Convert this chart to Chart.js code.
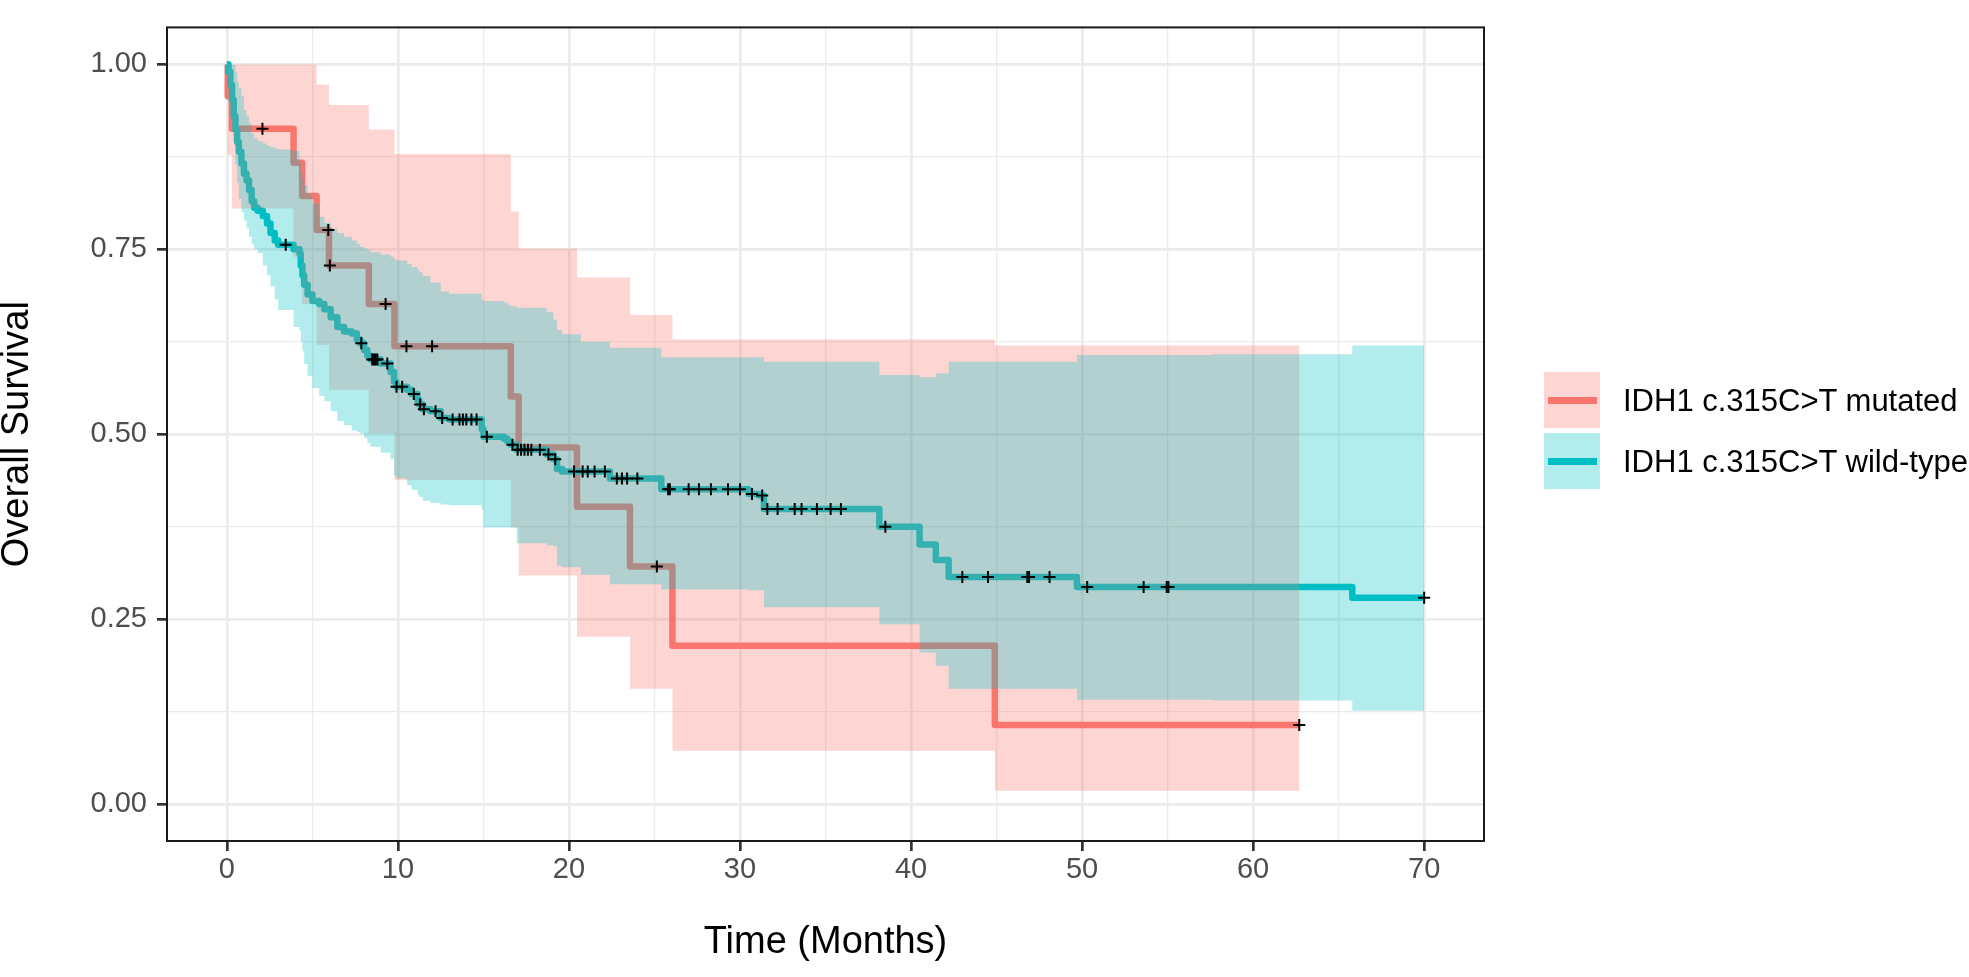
<!DOCTYPE html>
<html>
<head>
<meta charset="utf-8">
<script src="https://cdn.jsdelivr.net/npm/chart.js"></script>
<style>
  html, body { margin: 0; padding: 0; background: #ffffff; }
  #wrap { position: relative; width: 1969px; height: 977px; overflow: hidden; }
  #c { position: absolute; left: 0; top: 0; }
  .key { position: absolute; width: 56px; height: 56px; }
  .key .ln { position: absolute; left: 4px; top: 24.5px; width: 49px; height: 7px; }
  .lab { position: absolute; height: 56px; display: flex; align-items: center;
         font-family: 'Liberation Sans', Arial, sans-serif; font-size: 31px; line-height: 31px;
         color: #000; white-space: nowrap; }
</style>
</head>
<body>
<div id="wrap">
  <canvas id="c" width="1969" height="977"></canvas>
  <div id="legend"></div>
</div>
<script>
// ---------------- data ----------------
const seriesNames  = ['IDH1 c.315C>T mutated', 'IDH1 c.315C>T wild-type'];
const seriesColors = ['#F8766D', '#00BFC4'];
const ribbonColors = ['rgba(248,118,109,0.3)', 'rgba(0,191,196,0.3)'];

// IDH1 c.315C>T mutated : step times, survival, CI upper, CI lower
const mutTime  = [0, 0.05, 0.3, 3.9, 4.4, 5.25, 5.97, 8.3, 9.8, 16.6, 17.06, 20.47, 23.57, 26.05, 44.9, 62.7];
const mutSurv  = [1, 0.957, 0.913, 0.867, 0.822, 0.776, 0.728, 0.676, 0.619, 0.551, 0.482, 0.402, 0.321, 0.214, 0.107, 0.107];
const mutUpper = [1, 1, 1, 1, 1, 0.9725, 0.945, 0.912, 0.879, 0.801, 0.751, 0.712, 0.661, 0.628, 0.620, 0.620];
const mutLower = [1, 0.877, 0.805, 0.740, 0.676, 0.621, 0.560, 0.501, 0.438, 0.374, 0.309, 0.226, 0.156, 0.072, 0.018, 0.018];
const mutCensor = [2.08, 5.93, 6.02, 9.28, 10.5, 12.0, 25.14, 62.7];

// IDH1 c.315C>T wild-type
const wtTime = [0, 0.1, 0.2, 0.3, 0.4, 0.5, 0.6, 0.7, 0.85, 1.0, 1.15, 1.3, 1.45, 1.6, 1.8, 2.1, 2.35, 2.55, 2.8, 3.0,
  3.9, 4.25, 4.32, 4.42, 4.52, 4.72, 5.0, 5.4, 5.7, 6.07, 6.46, 6.85, 7.3, 7.6, 7.8, 8.02, 8.21, 8.4, 9.0, 9.57,
  9.77, 9.9, 10.54, 10.8, 11.15, 11.25, 11.45, 11.9, 12.5, 13.0, 14.9, 15.0, 16.2, 16.4, 16.6, 16.95, 18.7, 19.1, 19.3, 19.6,
  20.7, 22.4, 25.4, 30.5, 31.1, 31.4, 38.15, 40.5, 41.45, 42.2, 49.7, 57.6, 65.8, 70];
const wtSurv = [1, 0.990, 0.972, 0.952, 0.930, 0.912, 0.895, 0.882, 0.866, 0.852, 0.843, 0.830, 0.815, 0.806, 0.802, 0.795, 0.785, 0.772, 0.762, 0.756,
  0.750, 0.744, 0.728, 0.715, 0.702, 0.689, 0.680, 0.676, 0.669, 0.658, 0.645, 0.639, 0.636, 0.628, 0.623, 0.614, 0.606, 0.601, 0.5955, 0.584,
  0.571, 0.564, 0.560, 0.5545, 0.546, 0.540, 0.5336, 0.531, 0.522, 0.520, 0.507, 0.4965, 0.494, 0.490, 0.4856, 0.479, 0.4725, 0.466, 0.453, 0.4495,
  0.4495, 0.440, 0.4255, 0.419, 0.417, 0.399, 0.375, 0.351, 0.330, 0.307, 0.2935, 0.2935, 0.279, 0.279];
const wtUpper = [1, 1, 1, 1, 1, 0.99, 0.977, 0.968, 0.957, 0.938, 0.930, 0.920, 0.907, 0.900, 0.896, 0.893, 0.890, 0.888, 0.886, 0.885,
  0.883, 0.870, 0.855, 0.845, 0.837, 0.825, 0.812, 0.794, 0.786, 0.778, 0.772, 0.767, 0.762, 0.757, 0.753, 0.751, 0.749, 0.746, 0.743, 0.740,
  0.737, 0.735, 0.730, 0.726, 0.722, 0.719, 0.714, 0.705, 0.693, 0.690, 0.682, 0.680, 0.678, 0.675, 0.673, 0.671, 0.665, 0.655, 0.641, 0.635,
  0.625, 0.617, 0.604, 0.604, 0.604, 0.598, 0.580, 0.577, 0.582, 0.598, 0.607, 0.608, 0.620, 0.620];
const wtLower = [1, 0.975, 0.950, 0.922, 0.895, 0.865, 0.840, 0.818, 0.800, 0.789, 0.778, 0.767, 0.757, 0.750, 0.745, 0.728, 0.715, 0.700, 0.682, 0.668,
  0.645, 0.640, 0.625, 0.612, 0.595, 0.579, 0.562, 0.552, 0.5445, 0.531, 0.518, 0.512, 0.505, 0.503, 0.501, 0.495, 0.488, 0.483, 0.475, 0.466,
  0.444, 0.440, 0.431, 0.425, 0.418, 0.415, 0.410, 0.407, 0.405, 0.404, 0.398, 0.374, 0.374, 0.374, 0.374, 0.3525, 0.350, 0.348, 0.322, 0.320,
  0.310, 0.297, 0.290, 0.289, 0.289, 0.266, 0.243, 0.205, 0.187, 0.156, 0.141, 0.140, 0.126, 0.126];
const wtCensor = [3.44, 7.86, 8.5, 8.6, 8.7, 8.8, 9.38, 9.92, 10.25, 10.93, 11.3, 11.52, 12.2, 12.59, 13.2, 13.6, 13.8, 14.0, 14.3, 14.6,
  15.2, 16.7, 17.0, 17.2, 17.4, 17.6, 17.8, 18.3, 18.8, 19.2, 20.3, 20.8, 21.1, 21.5, 22.1, 22.8, 23.1, 23.4, 24.0, 25.8,
  25.9, 27.0, 27.6, 28.3, 29.3, 30.0, 30.7, 31.3, 31.6, 32.2, 33.2, 33.6, 34.5, 35.3, 35.9, 38.5, 43.0, 44.5, 46.8, 46.9,
  48.1, 50.3, 53.6, 54.95, 55.05, 70];

// axes
const xTicks = [0, 5, 10, 15, 20, 25, 30, 35, 40, 45, 50, 55, 60, 65, 70];
const xMajor = [0, 10, 20, 30, 40, 50, 60, 70];
const yTicks = [0, 0.125, 0.25, 0.375, 0.5, 0.625, 0.75, 0.875, 1];
const yMajor = [0, 0.25, 0.5, 0.75, 1];
const xRange = [-3.5, 73.5];
const yRange = [-0.05, 1.05];
const xTitle = 'Time (Months)';
const yTitle = 'Overall Survival';

// ---------------- helpers ----------------
const pts = (xs, ys) => xs.map((x, i) => ({ x: x, y: ys[i] }));
function survAt(times, surv, t) {
  let v = surv[0];
  for (let i = 0; i < times.length; i++) { if (times[i] <= t) v = surv[i]; }
  return v;
}
const censorPts = (cens, times, surv) => cens.map(t => ({ x: t, y: survAt(times, surv, t) }));
const isMajor = (arr, v) => arr.some(m => Math.abs(m - v) < 1e-9);

const FONT = "'Liberation Sans', Arial, sans-serif";
Chart.defaults.font.family = FONT;

const lineDs = (label, xs, ys, color, order) => ({
  type: 'line', label: label, data: pts(xs, ys), stepped: true,
  borderColor: color, borderWidth: 6.5, borderCapStyle: 'butt', borderJoinStyle: 'round',
  pointRadius: 0, pointHoverRadius: 0, fill: false, order: order, tension: 0
});
const bandDs = (xs, ys, fillColor, fillTarget, order) => ({
  type: 'line', data: pts(xs, ys), stepped: true,
  borderWidth: 0, borderColor: 'rgba(0,0,0,0)', backgroundColor: fillColor,
  pointRadius: 0, pointHoverRadius: 0, fill: fillTarget, order: order, tension: 0
});

const panelBorder = {
  id: 'panelBorder',
  afterDatasetsDraw(chart) {
    const { ctx, chartArea: a } = chart;
    ctx.save();
    ctx.strokeStyle = '#1a1a1a';
    ctx.lineWidth = 2;
    ctx.strokeRect(a.left, a.top, a.right - a.left, a.bottom - a.top);
    ctx.restore();
  }
};

new Chart(document.getElementById('c'), {
  type: 'line',
  data: {
    datasets: [
      lineDs(seriesNames[0], mutTime, mutSurv, seriesColors[0], 6),
      lineDs(seriesNames[1], wtTime, wtSurv, seriesColors[1], 5),
      bandDs(mutTime, mutUpper, ribbonColors[0], '+1', 4),
      bandDs(mutTime, mutLower, 'rgba(0,0,0,0)', false, 4.5),
      bandDs(wtTime, wtUpper, ribbonColors[1], '+1', 3),
      bandDs(wtTime, wtLower, 'rgba(0,0,0,0)', false, 3.5),
      { type: 'scatter', data: censorPts(mutCensor, mutTime, mutSurv).concat(censorPts(wtCensor, wtTime, wtSurv)),
        pointStyle: 'cross', pointRadius: 6, pointHoverRadius: 6, pointBorderWidth: 2,
        pointBorderColor: '#000', pointBackgroundColor: '#000', borderColor: '#000', showLine: false, order: 1 }
    ]
  },
  options: {
    responsive: false,
    animation: false,
    events: [],
    layout: { padding: { top: 2, right: 485, bottom: 0, left: 0 } },
    plugins: { legend: { display: false }, tooltip: { enabled: false } },
    scales: {
      x: {
        type: 'linear', min: xRange[0], max: xRange[1],
        afterBuildTicks: s => { s.ticks = xTicks.map(v => ({ value: v })); },
        afterFit: s => { s.height = 136; },
        ticks: {
          autoSkip: false, maxRotation: 0, minRotation: 0, padding: 2,
          color: '#4D4D4D', font: { size: 29, family: FONT },
          callback: v => isMajor(xMajor, v) ? String(v) : ''
        },
        grid: {
          color: '#EBEBEB',
          lineWidth: c => isMajor(xMajor, c.tick.value) ? 2.7 : 1.3,
          tickLength: 10,
          tickColor: c => isMajor(xMajor, c.tick.value) ? '#333333' : 'rgba(0,0,0,0)',
          tickWidth: 2.7
        },
        border: { display: false },
        title: { display: true, text: xTitle, color: '#000', font: { size: 38, family: FONT, lineHeight: 1.2 },
                 padding: { top: 0, bottom: 12 } }
      },
      y: {
        type: 'linear', min: yRange[0], max: yRange[1],
        afterBuildTicks: s => { s.ticks = yTicks.map(v => ({ value: v })); },
        afterFit: s => { s.width = 167; },
        ticks: {
          autoSkip: false, padding: 10,
          color: '#4D4D4D', font: { size: 29, family: FONT },
          callback: v => isMajor(yMajor, v) ? Number(v).toFixed(2) : ''
        },
        grid: {
          color: '#EBEBEB',
          lineWidth: c => isMajor(yMajor, c.tick.value) ? 2.7 : 1.3,
          tickLength: 10,
          tickColor: c => isMajor(yMajor, c.tick.value) ? '#333333' : 'rgba(0,0,0,0)',
          tickWidth: 2.7
        },
        border: { display: false },
        title: { display: true, text: yTitle, color: '#000', font: { size: 38, family: FONT, lineHeight: 0.9 }, padding: 0 }
      }
    }
  },
  plugins: [panelBorder]
});

// ---------------- legend ----------------
const legend = document.getElementById('legend');
seriesNames.forEach((name, i) => {
  const top = 372 + i * 61;
  const key = document.createElement('div');
  key.className = 'key';
  key.style.left = '1544px';
  key.style.top = top + 'px';
  key.style.background = ribbonColors[i];
  const ln = document.createElement('div');
  ln.className = 'ln';
  ln.style.background = seriesColors[i];
  key.appendChild(ln);
  legend.appendChild(key);
  const lab = document.createElement('div');
  lab.className = 'lab';
  lab.style.left = '1623px';
  lab.style.top = top + 'px';
  lab.textContent = name;
  legend.appendChild(lab);
});
</script>
</body>
</html>
